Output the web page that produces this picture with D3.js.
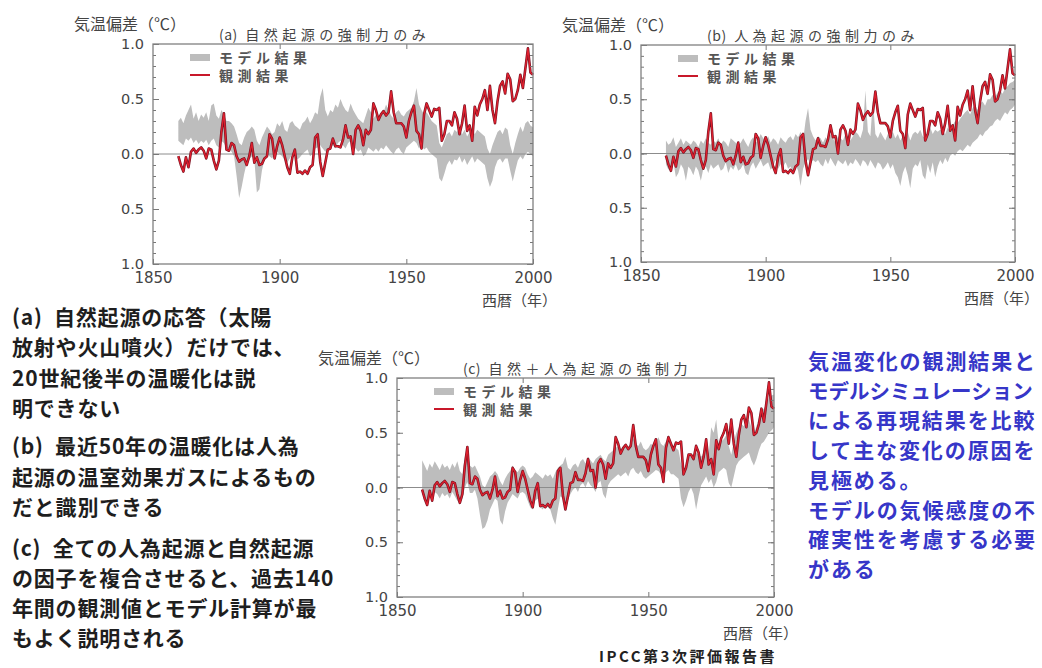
<!DOCTYPE html>
<html>
<head>
<meta charset="utf-8">
<script src="https://cdn.jsdelivr.net/npm/d3@7"></script>
<style>
    body { margin: 0; background: #ffffff; }
    svg { display: block; }
    .jp { font-family: "Noto Sans CJK JP", "Noto Sans", sans-serif; }
    .num { font-family: "DejaVu Sans", sans-serif; }
</style>
</head>
<body>
<svg id="chart" width="1042" height="668"></svg>
<script>
// years on the x axis
const years = d3.range(1860, 2001);

// observed global mean anomaly (relative to 1880-1920), same in all panels
const observed = [
    -0.02, -0.10, -0.16, -0.03, -0.12, 0.02, 0.05, 0.01, 0.04, 0.06,
    0.03, -0.04, 0.05, 0.04, -0.06, -0.14, -0.06, 0.20, 0.37, 0.04,
    0.03, 0.10, 0.08, -0.02, -0.07, -0.05, -0.04, -0.10, -0.02, 0.10,
    -0.08, -0.03, -0.10, -0.09, -0.04, -0.02, 0.18, 0.14, -0.04, 0.07,
    0.15, 0.08, -0.02, -0.12, -0.18, -0.03, 0.04, -0.17, -0.16, -0.18,
    -0.15, -0.18, -0.12, -0.10, 0.15, 0.18, -0.07, -0.20, -0.08, 0.04,
    0.05, 0.14, 0.07, 0.07, 0.06, 0.13, 0.26, 0.15, 0.16, 0.00,
    0.22, 0.26, 0.21, 0.08, 0.22, 0.18, 0.22, 0.46, 0.40, 0.31,
    0.36, 0.39, 0.35, 0.38, 0.57, 0.38, 0.28, 0.28, 0.28, 0.25,
    0.15, 0.30, 0.38, 0.44, 0.21, 0.18, 0.05, 0.36, 0.46, 0.40,
    0.34, 0.41, 0.40, 0.42, 0.12, 0.18, 0.30, 0.30, 0.26, 0.38,
    0.32, 0.18, 0.28, 0.44, 0.21, 0.26, 0.12, 0.43, 0.35, 0.45,
    0.50, 0.58, 0.40, 0.62, 0.40, 0.28, 0.48, 0.62, 0.66, 0.55,
    0.73, 0.68, 0.48, 0.50, 0.58, 0.72, 0.60, 0.78, 0.96, 0.74,
    0.72
];

// (a) natural forcing only: model range
const naturalHigh = [
    0.30, 0.33, 0.28, 0.35, 0.40, 0.45, 0.32, 0.38, 0.30, 0.36,
    0.33, 0.38, 0.30, 0.44, 0.46, 0.35, 0.32, 0.40, 0.36, 0.30,
    0.30, 0.28, 0.25, 0.18, 0.10, 0.08, 0.15, 0.20, 0.22, 0.25,
    0.22, 0.12, 0.08, 0.15, 0.20, 0.25, 0.22, 0.18, 0.20, 0.28,
    0.25, 0.30, 0.22, 0.20, 0.28, 0.30, 0.26, 0.24, 0.22, 0.28,
    0.30, 0.34, 0.28, 0.32, 0.38, 0.36, 0.52, 0.60, 0.40, 0.34,
    0.40, 0.38, 0.45, 0.42, 0.50, 0.44, 0.40, 0.38, 0.46, 0.40,
    0.36, 0.32, 0.30, 0.28, 0.35, 0.42, 0.38, 0.32, 0.36, 0.30,
    0.34, 0.38, 0.45, 0.40, 0.35, 0.32, 0.38, 0.40, 0.36, 0.34,
    0.38, 0.40, 0.42, 0.48, 0.60, 0.45, 0.40, 0.36, 0.38, 0.34,
    0.30, 0.28, 0.26, 0.10, 0.06, 0.12, 0.18, 0.20, 0.16, 0.22,
    0.20, 0.24, 0.18, 0.22, 0.16, 0.20, 0.25, 0.18, 0.22, 0.20,
    0.18, 0.16, 0.05, 0.00, 0.08, 0.14, 0.20, 0.22, 0.18, 0.24,
    0.22, 0.08, 0.00, 0.10, 0.18, 0.25, 0.20, 0.28, 0.30, 0.26,
    0.24
];
const naturalLow = [
    0.12, 0.10, 0.08, 0.14, 0.12, 0.15, 0.10, 0.13, 0.09, 0.12,
    0.10, 0.13, 0.08, 0.12, 0.14, 0.08, 0.06, 0.12, 0.10, 0.05,
    0.05, 0.02, -0.02, -0.20, -0.40, -0.30, -0.18, -0.08, -0.05, -0.02,
    -0.05, -0.35, -0.32, -0.15, -0.05, 0.00, -0.02, -0.04, 0.00, 0.02,
    0.00, -0.02, -0.06, -0.08, -0.04, 0.00, 0.02, -0.05, -0.03, 0.00,
    0.02, 0.04, -0.02, 0.00, 0.05, 0.06, 0.08, 0.05, 0.02, 0.04,
    0.06, 0.08, 0.05, 0.10, 0.12, 0.08, 0.05, 0.10, 0.12, 0.06,
    0.05, 0.02, 0.04, -0.02, 0.00, 0.06, 0.04, 0.02, 0.05, 0.02,
    0.06, 0.04, 0.08, 0.05, 0.02, 0.00, 0.04, 0.06, 0.02, 0.00,
    0.06, 0.08, 0.10, 0.12, 0.10, 0.05, 0.08, 0.04, 0.06, 0.02,
    0.00, -0.02, -0.04, -0.22, -0.25, -0.18, -0.10, -0.06, -0.10, -0.05,
    -0.06, -0.02, -0.08, -0.04, -0.10, -0.06, -0.02, -0.08, -0.04, -0.06,
    -0.08, -0.10, -0.22, -0.30, -0.24, -0.12, -0.06, -0.04, -0.08, -0.04,
    -0.04, -0.15, -0.25, -0.15, -0.06, -0.02, -0.05, 0.00, 0.02, 0.00,
    -0.02
];

// (b) anthropogenic forcing only: model range
const anthroHigh = [
    0.12, 0.08, 0.10, 0.15, 0.06, 0.10, 0.14, 0.08, 0.12, 0.10,
    0.08, 0.12, 0.10, 0.06, 0.12, 0.09, 0.14, 0.10, 0.08, 0.12,
    0.10, 0.14, 0.08, 0.12, 0.10, 0.06, 0.14, 0.12, 0.10, 0.08,
    0.10, 0.14, 0.10, 0.06, 0.12, 0.15, 0.10, 0.12, 0.18, 0.14,
    0.12, 0.16, 0.10, 0.14, 0.12, 0.08, 0.15, 0.12, 0.10, 0.14,
    0.16, 0.12, 0.18, 0.15, 0.20, 0.12, 0.30, 0.42, 0.22, 0.16,
    0.12, 0.16, 0.14, 0.10, 0.15, 0.12, 0.18, 0.14, 0.10, 0.16,
    0.14, 0.12, 0.18, 0.15, 0.12, 0.16, 0.20, 0.18, 0.14, 0.22,
    0.58, 0.20, 0.16, 0.50, 0.18, 0.14, 0.20, 0.16, 0.12, 0.18,
    0.16, 0.20, 0.14, 0.18, 0.12, 0.16, 0.15, 0.20, 0.12, 0.18,
    0.20, 0.18, 0.22, 0.16, 0.14, 0.20, 0.24, 0.18, 0.22, 0.20,
    0.22, 0.20, 0.18, 0.24, 0.20, 0.26, 0.30, 0.28, 0.32, 0.35,
    0.38, 0.40, 0.36, 0.42, 0.45, 0.40, 0.46, 0.48, 0.44, 0.50,
    0.50, 0.54, 0.52, 0.56, 0.58, 0.55, 0.60, 0.62, 0.65, 0.66,
    0.68
];
const anthroLow = [
    -0.10, -0.15, -0.12, -0.08, -0.22, -0.18, -0.10, -0.14, -0.25, -0.12,
    -0.15, -0.20, -0.12, -0.16, -0.25, -0.14, -0.12, -0.18, -0.10, -0.14,
    -0.12, -0.10, -0.16, -0.14, -0.08, -0.18, -0.12, -0.15, -0.10, -0.16,
    -0.14, -0.10, -0.18, -0.20, -0.12, -0.08, -0.14, -0.10, -0.06, -0.12,
    -0.10, -0.08, -0.15, -0.12, -0.06, -0.14, -0.10, -0.12, -0.08, -0.14,
    -0.12, -0.18, -0.10, -0.16, -0.30, -0.14, -0.08, -0.05, -0.10, -0.06,
    -0.08, -0.06, -0.10, -0.12, -0.05, -0.10, -0.04, -0.08, -0.12, -0.06,
    -0.08, -0.10, -0.06, -0.12, -0.08, -0.10, -0.05, -0.08, -0.12, -0.06,
    -0.08, -0.12, -0.06, -0.10, -0.14, -0.08, -0.10, -0.15, -0.12, -0.08,
    -0.14, -0.10, -0.18, -0.22, -0.30, -0.18, -0.12, -0.20, -0.32, -0.14,
    -0.10, -0.12, -0.06, -0.20, -0.24, -0.10, -0.18, -0.08, -0.22, -0.12,
    -0.06, -0.10, -0.04, -0.08, -0.02, 0.00, -0.02, 0.02, 0.04, 0.02,
    0.05, 0.08, 0.06, 0.10, 0.12, 0.14, 0.18, 0.16, 0.20, 0.22,
    0.25, 0.26, 0.30, 0.32, 0.30, 0.34, 0.38, 0.36, 0.40, 0.42,
    0.45
];

// (c) natural + anthropogenic forcing: model range
const combinedHigh = [
    0.25, 0.20, 0.15, 0.22, 0.18, 0.24, 0.20, 0.16, 0.22, 0.18,
    0.20, 0.16, 0.22, 0.18, 0.24, 0.15, 0.12, 0.28, 0.30, 0.20,
    0.18, 0.20, 0.15, 0.10, 0.02, 0.00, 0.05, 0.10, 0.12, 0.15,
    0.12, 0.06, 0.02, 0.08, 0.12, 0.15, 0.20, 0.16, 0.14, 0.18,
    0.20, 0.18, 0.12, 0.08, 0.10, 0.14, 0.12, 0.10, 0.08, 0.12,
    0.10, 0.12, 0.08, 0.14, 0.18, 0.20, 0.22, 0.28, 0.18, 0.16,
    0.20, 0.22, 0.18, 0.24, 0.26, 0.22, 0.28, 0.25, 0.22, 0.26,
    0.28, 0.30, 0.26, 0.24, 0.30, 0.32, 0.34, 0.36, 0.38, 0.35,
    0.38, 0.40, 0.36, 0.42, 0.45, 0.40, 0.38, 0.42, 0.36, 0.34,
    0.36, 0.40, 0.38, 0.42, 0.46, 0.40, 0.38, 0.42, 0.45, 0.40,
    0.38, 0.36, 0.34, 0.22, 0.15, 0.20, 0.28, 0.30, 0.26, 0.32,
    0.30, 0.28, 0.32, 0.35, 0.30, 0.55, 0.50, 0.62, 0.40, 0.42,
    0.44, 0.48, 0.38, 0.30, 0.42, 0.50, 0.55, 0.58, 0.56, 0.60,
    0.62, 0.55, 0.48, 0.56, 0.64, 0.70, 0.72, 0.76, 0.82, 0.84,
    0.85
];
const combinedLow = [
    -0.05, -0.10, -0.14, -0.08, -0.12, -0.04, -0.06, -0.10, -0.05, -0.08,
    -0.06, -0.10, -0.04, -0.08, -0.12, -0.15, -0.10, 0.00, 0.05, -0.05,
    -0.05, -0.02, -0.10, -0.25, -0.38, -0.36, -0.30, -0.20, -0.15, -0.10,
    -0.12, -0.30, -0.34, -0.22, -0.14, -0.10, -0.06, -0.08, -0.10, -0.05,
    -0.04, -0.06, -0.12, -0.18, -0.20, -0.12, -0.10, -0.18, -0.20, -0.16,
    -0.18, -0.20, -0.28, -0.34, -0.20, -0.08, -0.10, -0.20, -0.12, -0.06,
    -0.02, 0.00, -0.04, 0.02, 0.04, 0.00, 0.06, 0.02, 0.00, -0.04,
    0.04, 0.06, -0.06, -0.10, 0.02, 0.06, 0.08, 0.10, 0.12, 0.10,
    0.12, 0.14, 0.10, 0.16, 0.18, 0.14, 0.12, 0.15, 0.10, 0.08,
    0.10, 0.12, 0.14, 0.16, 0.15, 0.12, 0.10, 0.14, 0.16, 0.12,
    0.12, 0.10, 0.08, -0.10, -0.18, -0.12, -0.04, 0.00, -0.06, -0.20,
    -0.08, 0.02, 0.06, 0.10, 0.04, 0.08, 0.00, 0.05, 0.14, 0.16,
    0.18, 0.16, 0.04, 0.00, 0.10, 0.20, 0.24, 0.26, 0.28, 0.30,
    0.32, 0.25, 0.20, 0.26, 0.34, 0.40, 0.42, 0.46, 0.50, 0.52,
    0.55
];

const yMajorTicks = [-1, -0.5, 0, 0.5, 1];
const yMinorTicks = d3.range(-10, 11).map(d => d / 10);
const xTickLabels = [1850, 1900, 1950, 2000];

const leftNotes = [
    {y: 316, text: "(a)\u2002自然起源の応答（太陽"},
    {y: 346, text: "放射や火山噴火）だけでは、"},
    {y: 377, text: "20世紀後半の温暖化は説"},
    {y: 407, text: "明できない"},
    {y: 445, text: "(b)\u2002最近50年の温暖化は人為"},
    {y: 476, text: "起源の温室効果ガスによるもの"},
    {y: 506, text: "だと識別できる"},
    {y: 547, text: "(c)\u2002全ての人為起源と自然起源"},
    {y: 577, text: "の因子を複合させると、過去140"},
    {y: 607, text: "年間の観測値とモデル計算が最"},
    {y: 637, text: "もよく説明される"}
];
const rightNotes = [
    "気温変化の観測結果と",
    "モデルシミュレーション",
    "による再現結果を比較",
    "して主な変化の原因を",
    "見極める。",
    "モデルの気候感度の不",
    "確実性を考慮する必要",
    "がある"
];

class TempPanel {
    constructor(svg, opts) {
        this.svg = svg;
        this.opts = opts;
        this.x = d3.scaleLinear().domain([1850, 2000]).range([opts.left, opts.right]);
        this.y = d3.scaleLinear().domain([-1, 1]).range([opts.bottom, opts.top]);
    }

    draw() {
        let o = this.opts, x = this.x, y = this.y;
        let g = this.svg.append("g");

        // model band
        let band = d3.area()
                .x((d, i) => x(years[i]))
                .y0((d, i) => y(o.low[i]))
                .y1((d, i) => y(o.high[i]));
        g.append("path").datum(years).attr("d", band).attr("fill", "#bdbdbd");

        // zero line
        g.append("line")
                .attr("x1", o.left).attr("x2", o.right)
                .attr("y1", y(0)).attr("y2", y(0))
                .attr("stroke", "#8c8c8c").attr("stroke-width", 1);

        // observations
        let line = d3.line().x((d, i) => x(years[i])).y(d => y(d));
        g.append("path").datum(observed).attr("d", line)
                .attr("fill", "none").attr("stroke", "#7a1424").attr("stroke-width", 2.6)
                .attr("stroke-linejoin", "round");
        g.append("path").datum(observed).attr("d", line)
                .attr("fill", "none").attr("stroke", "#e0202e").attr("stroke-width", 1.3)
                .attr("stroke-linejoin", "round");

        // axes, ticks pointing inwards
        let fmt = d => d3.format(".1f")(Math.abs(d));
        let addAxis = (axis, tx, ty) => {
            let a = g.append("g").attr("transform", `translate(${tx},${ty})`).call(axis);
            a.select(".domain").remove();
            a.selectAll("line").attr("stroke", "#777");
            a.selectAll("text").attr("class", "num").attr("font-size", 15).attr("fill", "#444");
            return a;
        };
        addAxis(d3.axisLeft(y).tickValues(yMinorTicks).tickSize(-3).tickFormat(""), o.left, 0);
        addAxis(d3.axisRight(y).tickValues(yMinorTicks).tickSize(-3).tickFormat(""), o.right, 0);
        let yAx = addAxis(d3.axisLeft(y).tickValues(yMajorTicks).tickSize(-6).tickPadding(9).tickFormat(fmt), o.left, 0);
        yAx.selectAll("text").attr("font-size", 14.5);
        addAxis(d3.axisRight(y).tickValues(yMajorTicks).tickSize(-6).tickFormat(""), o.right, 0);
        addAxis(d3.axisBottom(x).tickValues(xTickLabels).tickSize(-5).tickPadding(8).tickFormat(d3.format("d")), 0, o.bottom);
        addAxis(d3.axisTop(x).tickValues([1900, 1950]).tickSize(-5).tickFormat(""), 0, o.top);

        // frame
        g.append("rect")
                .attr("x", o.left).attr("y", o.top)
                .attr("width", o.right - o.left).attr("height", o.bottom - o.top)
                .attr("fill", "none").attr("stroke", "#808080").attr("stroke-width", 1.3);

        // texts
        g.append("text").attr("class", "jp")
                .attr("x", o.left - 79).attr("y", o.top - 21)
                .attr("dominant-baseline", "central")
                .attr("font-size", 16).attr("fill", "#444")
                .text("気温偏差（℃）");
        let title = g.append("text").attr("class", "jp")
                .attr("x", o.left + 66).attr("y", o.top - 10)
                .attr("dominant-baseline", "central")
                .attr("font-size", 14).attr("fill", "#444");
        title.append("tspan").attr("letter-spacing", 0.5).text(o.label + "\u2002");
        title.append("tspan").attr("letter-spacing", 4.5).text(o.title);
        g.append("text").attr("class", "jp")
                .attr("x", o.right + 24).attr("y", o.bottom + 35)
                .attr("text-anchor", "end")
                .attr("dominant-baseline", "central")
                .attr("font-size", 15).attr("fill", "#444")
                .text("西暦（年）");

        // legend
        g.append("rect")
                .attr("x", o.left + 37).attr("y", o.top + 10)
                .attr("width", 20).attr("height", 7).attr("fill", "#bdbdbd");
        g.append("line")
                .attr("x1", o.left + 37).attr("x2", o.left + 57)
                .attr("y1", o.top + 31).attr("y2", o.top + 31)
                .attr("stroke", "#c8182a").attr("stroke-width", 2);
        g.append("text").attr("class", "jp")
                .attr("x", o.left + 66).attr("y", o.top + 13)
                .attr("dominant-baseline", "central")
                .attr("font-size", 14).attr("letter-spacing", 4.5).attr("font-weight", "bold").attr("fill", "#555")
                .text("モデル結果");
        g.append("text").attr("class", "jp")
                .attr("x", o.left + 66).attr("y", o.top + 31)
                .attr("dominant-baseline", "central")
                .attr("font-size", 14).attr("letter-spacing", 4.5).attr("font-weight", "bold").attr("fill", "#555")
                .text("観測結果");
    }
}

let svg = d3.select("#chart");
svg.append("rect").attr("width", 1042).attr("height", 668).attr("fill", "#fff");

let panels = [
    {label: "(a)", title: "自然起源の強制力のみ", low: naturalLow, high: naturalHigh, left: 153, right: 533, top: 44, bottom: 264},
    {label: "(b)", title: "人為起源の強制力のみ", low: anthroLow, high: anthroHigh, left: 641, right: 1015, top: 45, bottom: 262},
    {label: "(c)", title: "自然＋人為起源の強制力", low: combinedLow, high: combinedHigh, left: 397, right: 774, top: 378, bottom: 597}
];
for (let p of panels) {
    new TempPanel(svg, p).draw();
}

// explanatory notes
svg.append("g").selectAll("text").data(leftNotes).join("text")
        .attr("class", "jp")
        .attr("x", 12).attr("y", d => d.y)
        .attr("dominant-baseline", "central")
        .attr("font-size", 21).attr("letter-spacing", 0.8)
        .attr("font-weight", "bold").attr("fill", "#1e1e1e")
        .text(d => d.text);

svg.append("g").selectAll("text").data(rightNotes).join("text")
        .attr("class", "jp")
        .attr("x", 808).attr("y", (d, i) => 360 + i * 29.7)
        .attr("dominant-baseline", "central")
        .attr("font-size", d => d.length > 10 ? 20.5 : 21)
        .attr("letter-spacing", d => d.length > 10 ? 0 : 1.9)
        .attr("font-weight", "bold").attr("fill", "#3636c8")
        .text(d => d);

svg.append("text").attr("class", "jp")
        .attr("x", 599).attr("y", 655)
        .attr("dominant-baseline", "central")
        .attr("font-size", 15).attr("letter-spacing", 2.5)
        .attr("font-weight", "bold").attr("fill", "#222")
        .text("IPCC第3次評価報告書");
</script>
</body>
</html>
